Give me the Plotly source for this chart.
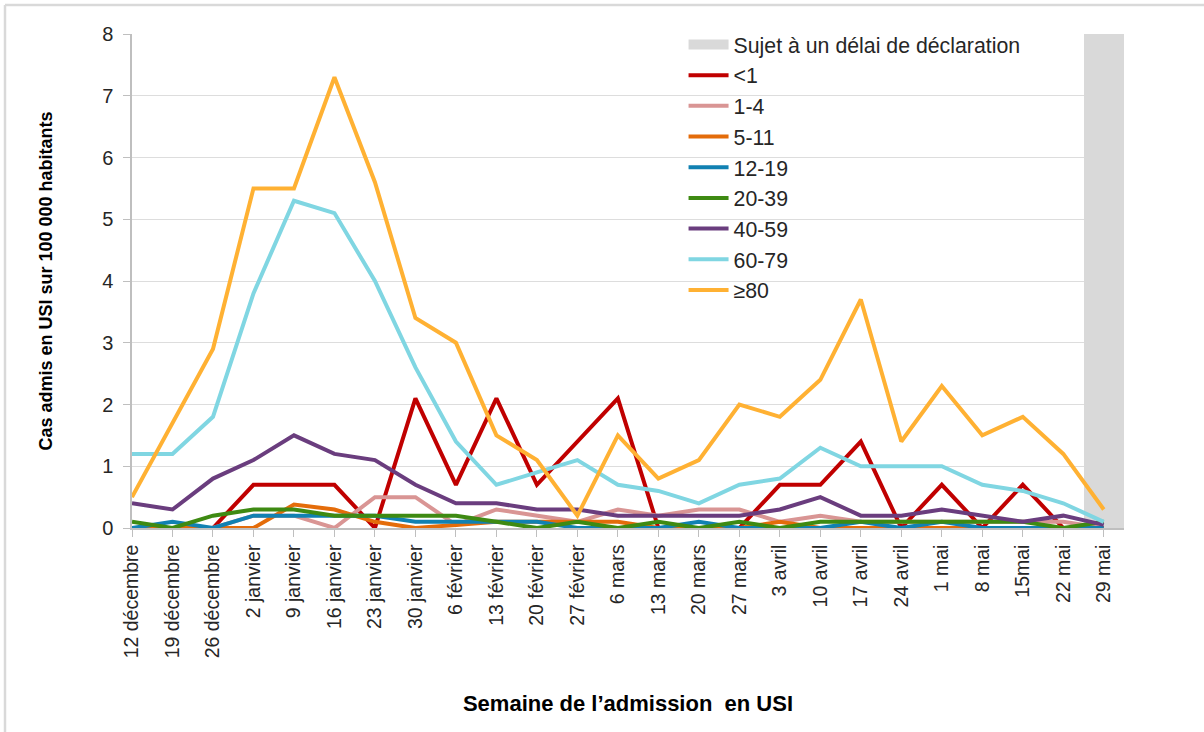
import plotly.graph_objects as go

weeks = ["12 décembre", "19 décembre", "26 décembre", "2 janvier", "9 janvier", "16 janvier",
         "23 janvier", "30 janvier", "6 février", "13 février", "20 février", "27 février",
         "6 mars", "13 mars", "20 mars", "27 mars", "3 avril", "10 avril", "17 avril",
         "24 avril", "1 mai", "8 mai", "15mai", "22 mai", "29 mai"]

lt1 = [0, 0, 0, 0.7, 0.7, 0.7, 0, 2.1, 0.7, 2.1, 0.7, 1.4, 2.1, 0, 0, 0, 0.7, 0.7, 1.4, 0, 0.7, 0, 0.7, 0, 0]
a1_4 = [0, 0, 0, 0.2, 0.2, 0, 0.5, 0.5, 0.05, 0.3, 0.2, 0.1, 0.3, 0.2, 0.3, 0.3, 0.1, 0.2, 0.1, 0.1, 0.1, 0.1, 0.1, 0.1, 0]
a5_11 = [0, 0, 0, 0, 0.38, 0.3, 0.1, 0, 0.05, 0.1, 0.1, 0.1, 0.1, 0, 0, 0, 0.1, 0, 0, 0, 0, 0, 0, 0, 0]
a12_19 = [0, 0.1, 0, 0.2, 0.2, 0.2, 0.2, 0.1, 0.1, 0.1, 0.1, 0, 0, 0, 0.1, 0, 0, 0, 0.1, 0, 0.1, 0, 0, 0, 0]
a20_39 = [0.1, 0, 0.2, 0.3, 0.3, 0.2, 0.2, 0.2, 0.2, 0.1, 0, 0.1, 0, 0.1, 0, 0.1, 0, 0.1, 0.1, 0.1, 0.1, 0.1, 0.1, 0, 0.1]
a40_59 = [0.4, 0.3, 0.8, 1.1, 1.5, 1.2, 1.1, 0.7, 0.4, 0.4, 0.3, 0.3, 0.2, 0.2, 0.2, 0.2, 0.3, 0.5, 0.2, 0.2, 0.3, 0.2, 0.1, 0.2, 0.05]
a60_79 = [1.2, 1.2, 1.8, 3.8, 5.3, 5.1, 4.0, 2.6, 1.4, 0.7, 0.9, 1.1, 0.7, 0.6, 0.4, 0.7, 0.8, 1.3, 1.0, 1.0, 1.0, 0.7, 0.6, 0.4, 0.1]
a80 = [0.5, 1.7, 2.9, 5.5, 5.5, 7.3, 5.6, 3.4, 3.0, 1.5, 1.1, 0.2, 1.5, 0.8, 1.1, 2.0, 1.8, 2.4, 3.7, 1.4, 2.3, 1.5, 1.8, 1.2, 0.3]

delay_label = "Sujet à un délai de déclaration"
delay_week = ["29 mai"]
delay_value = [8]

series = [
    ("<1", lt1, "#C00000"),
    ("1-4", a1_4, "#D99594"),
    ("5-11", a5_11, "#E46C0A"),
    ("12-19", a12_19, "#1181B2"),
    ("20-39", a20_39, "#3E8A12"),
    ("40-59", a40_59, "#6A3D7E"),
    ("60-79", a60_79, "#80D6E2"),
    ("≥80", a80, "#FFB133"),
]

idx = list(range(len(weeks)))
fig = go.Figure()
fig.add_trace(go.Bar(x=[weeks.index(w) for w in delay_week], y=delay_value, width=1,
                     marker=dict(color="#D9D9D9", line=dict(width=0)), name=delay_label,
                     legendgroup="delay", showlegend=False))
# legend entry for the grey band (wide rectangle like the original)
fig.add_trace(go.Scatter(x=[None], y=[None], mode="lines", name=delay_label,
                         legendgroup="delay", line=dict(color="#D9D9D9", width=10)))
for name, vals, col in series:
    fig.add_trace(go.Scatter(x=idx, y=vals, mode="lines", name=name,
                             line=dict(color=col, width=4)))

font = "Liberation Sans"
fig.update_layout(
    width=1204, height=732,
    margin=dict(l=132, r=80, t=34, b=204),
    paper_bgcolor="white", plot_bgcolor="white",
    font=dict(family=font, color="#262626"),
    showlegend=True,
    legend=dict(x=0.556, y=1.02, xanchor="left", yanchor="top", bgcolor="rgba(0,0,0,0)",
                font=dict(size=21.3, family=font, color="#262626"), tracegroupgap=0,
                itemwidth=40),
    xaxis=dict(range=[0, 24.5], tickmode="array", tickvals=idx, ticktext=weeks,
               tickangle=-90, tickfont=dict(size=19.5, family=font, color="#262626"),
               showgrid=False, showline=True, linecolor="#BFBFBF", linewidth=1.5,
               ticks="outside", ticklen=7, tickcolor="#BFBFBF", zeroline=False,
               title=dict(text="<b>Semaine de l’admission  en USI</b>",
                          font=dict(size=22, family=font, color="#000000"), standoff=38)),
    yaxis=dict(range=[0, 8], dtick=1, tickfont=dict(size=20, family=font, color="#262626"),
               showgrid=True, gridcolor="#DDDDDD", gridwidth=1,
               showline=True, linecolor="#BFBFBF", linewidth=1.5,
               ticks="outside", ticklen=7, tickcolor="#BFBFBF", zeroline=False,
               ticklabelstandoff=6,
               title=dict(text="<b>Cas admis en USI sur 100 000 habitants</b>",
                          font=dict(size=18, family=font, color="#000000"), standoff=45)),
    bargap=0,
)
fig.add_shape(type="line", xref="paper", yref="paper", x0=-127/992, x1=1.1, y0=1 + 29/494, y1=1 + 29/494,
              line=dict(color="#D9D9D9", width=2.5), layer="above")
fig.add_shape(type="line", xref="paper", yref="paper", x0=-127/992, x1=-127/992, y0=-1, y1=1 + 29/494,
              line=dict(color="#D9D9D9", width=2.5), layer="above")
fig.write_html("out.html", config={"displayModeBar": False},
               post_script="document.body.style.margin='0';document.body.style.overflow='hidden';")
